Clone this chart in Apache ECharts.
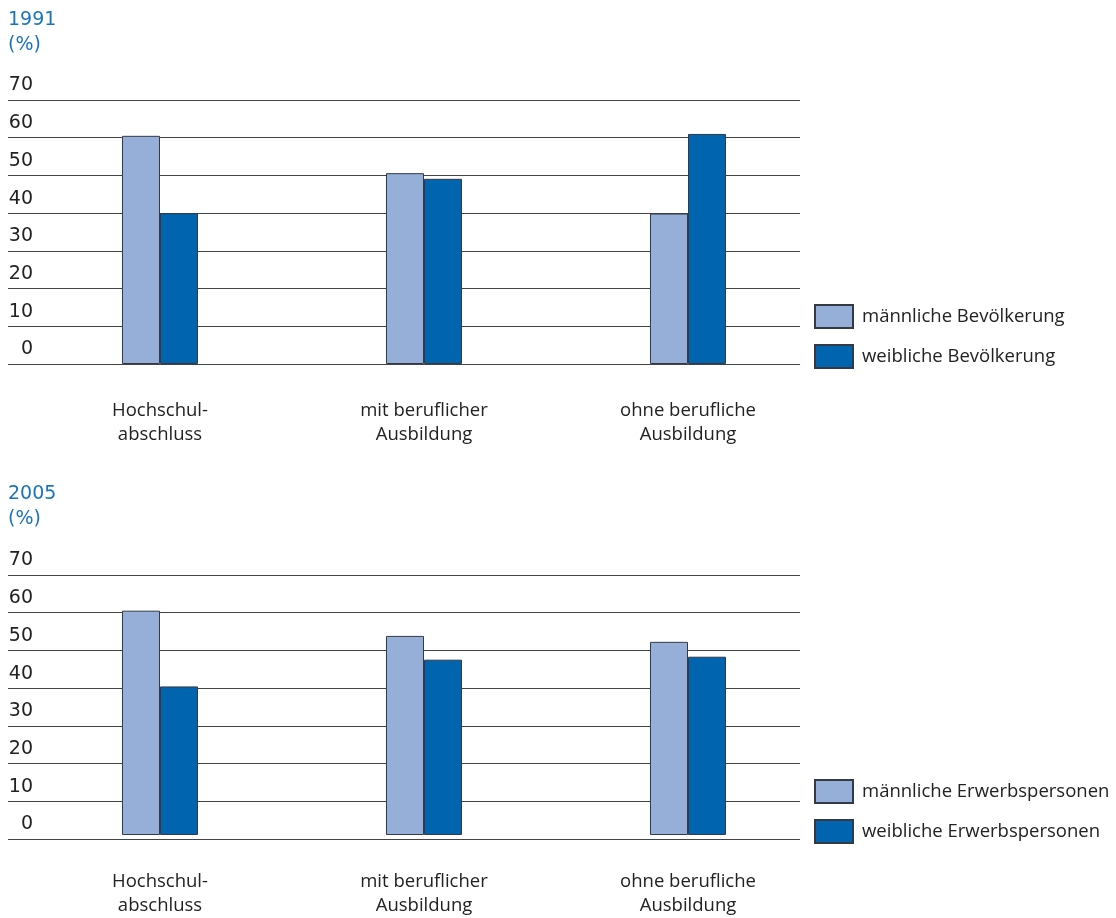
<!DOCTYPE html>
<html>
<head>
<meta charset="utf-8">
<script src="https://cdn.jsdelivr.net/npm/echarts@6/dist/echarts.min.js"></script>
<style>
  html, body { margin: 0; padding: 0; background: #fff; }
  #chart { width: 1116px; height: 918px; }
</style>
</head>
<body>
<div id="chart"></div>
<script>
// Bildungsabschluss nach Geschlecht, Anteile in Prozent
const categories = ['Hochschul-\nabschluss', 'mit beruflicher\nAusbildung', 'ohne berufliche\nAusbildung'];
const yTicks = [0, 10, 20, 30, 40, 50, 60, 70];

const year1 = '1991';
const series1Names = ['männliche Bevölkerung', 'weibliche Bevölkerung'];
const male1991 = [60.5, 50.6, 39.9];
const female1991 = [40.0, 49.1, 61.0];

const year2 = '2005';
const series2Names = ['männliche Erwerbspersonen', 'weibliche Erwerbspersonen'];
const male2005 = [60.4, 53.6, 52.0];
const female2005 = [40.0, 47.2, 48.0];

const FONT = 'Open Sans';
const NUM_FONT = 'DejaVu Sans';
const TEXT = '#222222';
const BLUE_TITLE = '#1a74bb';
const LIGHT = '#95afd9';
const DARK = '#0065ae';
const LINE = '#444444';

const panelTop = [100, 575];
const plotH = 264;

function lineGrid(top) { return { left: 8, width: 792, top: top, height: plotH }; }
function barGrid(top) { return { left: 28, width: 792, top: top, height: plotH }; }

const grids = [lineGrid(panelTop[0]), barGrid(panelTop[0]), lineGrid(panelTop[1]), barGrid(panelTop[1])];

const xAxes = [];
const yAxes = [];
grids.forEach((g, i) => {
  const isBar = i % 2 === 1;
  xAxes.push({
    type: 'category', gridIndex: i, data: categories,
    show: isBar,
    axisLine: { show: false }, axisTick: { show: false },
    axisLabel: {
      show: isBar, color: TEXT, fontFamily: FONT, fontSize: 18.5,
      lineHeight: 24, margin: 35, interval: 0
    }
  });
  yAxes.push({
    type: 'value', gridIndex: i, min: yTicks[0], max: yTicks[yTicks.length - 1], interval: 10,
    show: !isBar,
    axisLine: { show: false }, axisTick: { show: false },
    splitLine: { show: !isBar, lineStyle: { color: LINE, width: 1 } },
    axisLabel: {
      show: !isBar, inside: true, align: 'right', margin: 25,
      verticalAlign: 'bottom', padding: [0, 0, 5, 0],
      color: TEXT, fontFamily: NUM_FONT, fontSize: 19
    }
  });
});

function bar(name, data, color, axisIdx) {
  return {
    name: name, type: 'bar', data: data,
    xAxisIndex: axisIdx, yAxisIndex: axisIdx,
    barWidth: 38, barGap: 0,
    itemStyle: { color: color, borderColor: '#333a45', borderWidth: 1 },
    emphasis: { disabled: true }
  };
}

function legend(names, top) {
  return {
    data: names, orient: 'vertical', left: 814, top: top, padding: 0,
    itemWidth: 38, itemHeight: 23, itemGap: 15, icon: 'rect',
    textStyle: { color: TEXT, fontFamily: FONT, fontSize: 18.5, padding: [0, 0, 0, 4] },
    selectedMode: false
  };
}

function titleBlock(year, top) {
  return {
    text: year + '\n(%)', left: 8, top: top, padding: 0,
    textStyle: { color: BLUE_TITLE, fontFamily: NUM_FONT, fontSize: 19, fontWeight: 'normal', lineHeight: 25 }
  };
}

const chart = echarts.init(document.getElementById('chart'), null, { renderer: 'canvas' });
chart.setOption({
  animation: false,
  backgroundColor: '#ffffff',
  title: [titleBlock(year1, 8), titleBlock(year2, 482)],
  legend: [legend(series1Names, 304), legend(series2Names, 779)],
  grid: grids,
  xAxis: xAxes,
  yAxis: yAxes,
  series: [
    bar(series1Names[0], male1991, LIGHT, 1),
    bar(series1Names[1], female1991, DARK, 1),
    bar(series2Names[0], male2005, LIGHT, 3),
    bar(series2Names[1], female2005, DARK, 3)
  ]
});
</script>
</body>
</html>
